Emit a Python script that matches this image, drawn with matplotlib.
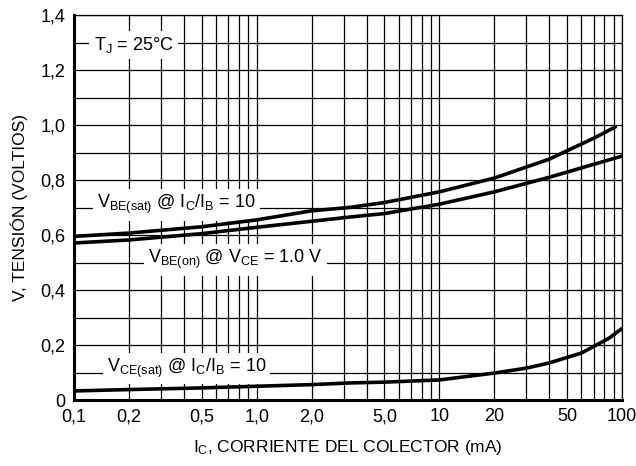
import matplotlib
matplotlib.use("Agg")
import matplotlib.pyplot as plt
from matplotlib.ticker import FixedLocator, NullFormatter

plt.rcParams['font.family'] = ['Liberation Sans', 'DejaVu Sans']
plt.rcParams['mathtext.fontset'] = 'custom'
plt.rcParams['mathtext.rm'] = 'Liberation Sans'
plt.rcParams['mathtext.it'] = 'Liberation Sans'

# data (IC in mA, voltages in V)
ic_besat = [0.1, 0.2, 0.5, 1.0, 2.0, 3.2, 5.0, 10, 20, 40, 70, 92]
v_besat = [0.595, 0.607, 0.63, 0.655, 0.688, 0.70, 0.718, 0.757, 0.807, 0.876, 0.952, 0.993]

ic_beon = [0.1, 0.2, 0.5, 1.0, 2.0, 3.2, 5.0, 10, 20, 40, 100]
v_beon = [0.571, 0.582, 0.605, 0.628, 0.65, 0.665, 0.678, 0.712, 0.757, 0.81, 0.887]

ic_cesat = [0.1, 0.2, 0.5, 1.0, 2.0, 3.2, 5.0, 10, 20, 30, 40, 60, 85, 100]
v_cesat = [0.033, 0.038, 0.044, 0.05, 0.056, 0.062, 0.065, 0.073, 0.098, 0.116, 0.135, 0.171, 0.225, 0.26]

x_ticks = [0.1, 0.2, 0.5, 1.0, 2.0, 5.0, 10, 20, 50, 100]
x_labels = ['0,1', '0,2', '0,5', '1,0', '2,0', '5,0', '10', '20', '50', '100']
y_ticks = [0, 0.2, 0.4, 0.6, 0.8, 1.0, 1.2, 1.4]
y_labels = ['0', '0,2', '0,4', '0,6', '0,8', '1,0', '1,2', '1,4']

fig = plt.figure(figsize=(6.36, 4.66), dpi=100)
ax = fig.add_axes([0.1164, 0.1416, 0.8616, 0.8262])

ax.set_xscale('log')
ax.set_xlim(0.1, 100)
ax.set_ylim(0, 1.4)

# grid
minor_x = [m * 10.0 ** e for e in (-1, 0, 1) for m in range(1, 10)] + [100]
ax.xaxis.set_minor_locator(FixedLocator(minor_x))
ax.xaxis.set_minor_formatter(NullFormatter())
ax.yaxis.set_minor_locator(FixedLocator([i / 10 for i in range(15)]))
ax.grid(True, which='both', color='black', linewidth=0.9, zorder=0)
ax.set_axisbelow(True)

ax.set_xticks(x_ticks)
ax.set_xticklabels(x_labels)
ax.set_yticks(y_ticks)
ax.set_yticklabels(y_labels)
ax.tick_params(which='both', length=0, labelsize=13, pad=6)

for s in ('left', 'bottom'):
    ax.spines[s].set_linewidth(2.2)
for s in ('right', 'top'):
    ax.spines[s].set_linewidth(0.9)

ax.plot(ic_besat, v_besat, color='black', lw=2.6, zorder=3, solid_capstyle='round')
ax.plot(ic_beon, v_beon, color='black', lw=2.6, zorder=3, solid_capstyle='round')
ax.plot(ic_cesat, v_cesat, color='black', lw=2.6, zorder=3, solid_capstyle='round')

box = dict(facecolor='white', edgecolor='none', pad=3)
fs = 13
ax.text(0.128, 1.29, r'T$_{\mathrm{J}}$ = 25°C', fontsize=fs, va='center', ha='left', bbox=box, zorder=2)
ax.text(0.134, 0.71, r'V$_{\mathrm{BE(sat)}}$ @ I$_{\mathrm{C}}$/I$_{\mathrm{B}}$ = 10',
        fontsize=fs, va='center', ha='left', bbox=box, zorder=2)
ax.text(0.254, 0.51, r'V$_{\mathrm{BE(on)}}$ @ V$_{\mathrm{CE}}$ = 1.0 V',
        fontsize=fs, va='center', ha='left', bbox=box, zorder=2)
ax.text(0.151, 0.115, r'V$_{\mathrm{CE(sat)}}$ @ I$_{\mathrm{C}}$/I$_{\mathrm{B}}$ = 10',
        fontsize=fs, va='center', ha='left', bbox=box, zorder=2)

ax.set_xlabel(r'I$_{\mathrm{C}}$, CORRIENTE DEL COLECTOR (mA)', fontsize=12.5, labelpad=9)
ax.set_ylabel('V, TENSIÓN (VOLTIOS)', fontsize=12.5, labelpad=9)

fig.savefig('out.png', dpi=100)
